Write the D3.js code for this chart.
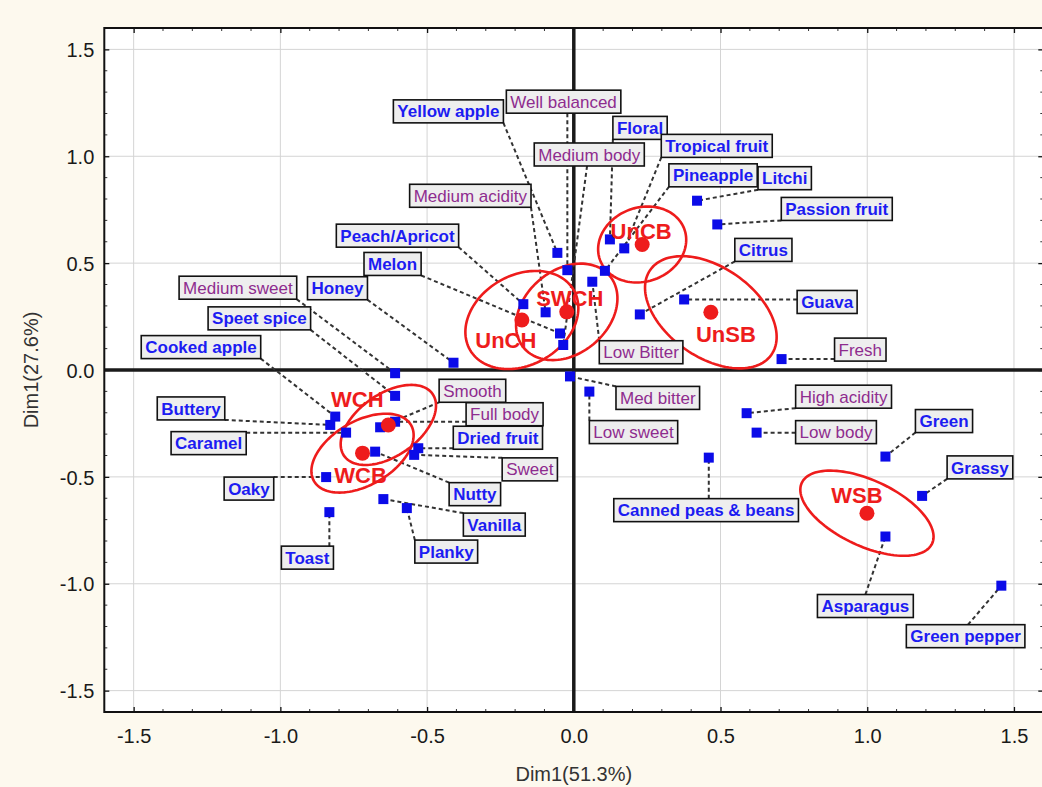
<!DOCTYPE html>
<html>
<head>
<meta charset="utf-8">
<script src="https://cdn.jsdelivr.net/npm/d3@7"></script>
<style>
  html, body { margin: 0; padding: 0; background: #fdf9ee; }
  svg { display: block; }
  text { font-family: "Liberation Sans", Arial, sans-serif; }
</style>
</head>
<body>
<svg id="chart" width="1042" height="787"></svg>
<script>
// ---- Sensory attributes: coordinates on Dim1 / Dim2 ----
const attrNames = [
  "Yellow apple", "Well balanced", "Floral", "Medium body", "Tropical fruit",
  "Pineapple", "Litchi", "Passion fruit", "Citrus", "Guava",
  "Fresh", "Low Bitter", "Medium acidity", "Peach/Apricot", "Melon",
  "Honey", "Medium sweet", "Speet spice", "Cooked apple", "Buttery",
  "Caramel", "Smooth", "Full body", "Nutty", "Dried fruit",
  "Sweet", "Oaky", "Vanilla", "Planky", "Toast",
  "Med bitter", "Low sweet", "High acidity", "Low body", "Canned peas & beans",
  "Green", "Grassy", "Asparagus", "Green pepper"
];
const attrDim1 = [
  -0.056, -0.022, 0.123, -0.036, 0.172,
  0.106, 0.420, 0.489, 0.225, 0.376,
  0.708, 0.063, -0.096, -0.172, -0.047,
  -0.410, -0.609, -0.609, -0.813, -0.830,
  -0.776, -0.660, -0.609, -0.677, -0.530,
  -0.544, -0.844, -0.649, -0.569, -0.833,
  -0.013, 0.053, 0.589, 0.623, 0.460,
  1.062, 1.187, 1.062, 1.457
];
const attrDim2 = [
  0.548, 0.467, 0.611, 0.117, 0.569,
  0.464, 0.792, 0.681, 0.260, 0.330,
  0.051, 0.413, 0.270, 0.308, 0.171,
  0.034, -0.015, -0.121, -0.218, -0.257,
  -0.293, -0.268, -0.242, -0.382, -0.366,
  -0.397, -0.501, -0.604, -0.646, -0.665,
  -0.030, -0.101, -0.202, -0.293, -0.410,
  -0.405, -0.589, -0.779, -1.009
];
// "a" = aroma / flavour descriptor, "t" = taste / mouthfeel descriptor
const attrType = [
  "a", "t", "a", "t", "a",
  "a", "a", "a", "a", "a",
  "t", "t", "t", "a", "a",
  "a", "t", "a", "a", "a",
  "a", "t", "t", "a", "a",
  "t", "a", "a", "a", "a",
  "t", "t", "t", "t", "a",
  "a", "a", "a", "a"
];

// ---- Wine samples and their confidence ellipses ----
const sampleNames = ["UnCH", "SWCH", "UnCB", "UnSB", "WCH", "WCB", "WSB"];
const sampleDim1  = [-0.177, -0.024, 0.233, 0.467, -0.632, -0.720, 0.999];
const sampleDim2  = [0.234, 0.272, 0.587, 0.270, -0.257, -0.389, -0.670];
const ellipseSemiDim1 = [0.204, 0.191, 0.153, 0.252, 0.184, 0.191, 0.245];
const ellipseSemiDim2 = [0.210, 0.196, 0.173, 0.210, 0.145, 0.150, 0.154];
const ellipseTilt     = [-30, -40, -20, 35, -35, -30, 25];

// ---- Axis ticks ----
const xTickValues = [-1.5, -1.0, -0.5, 0.0, 0.5, 1.0, 1.5];
const yTickValues = [-1.5, -1.0, -0.5, 0.0, 0.5, 1.0, 1.5];
const xTitle = "Dim1(51.3%)";
const yTitle = "Dim1(27.6%)";

// ---- Layout: label box offset (px) from its marker, optional leader anchor ----
const labelLayout = {
  "Yellow apple": [-164, -153], "Well balanced": [-61, -180], "Floral": [3, -123],
  "Medium body": [-29, -202, 0.48, 1], "Tropical fruit": [37, -114], "Pineapple": [64, -107],
  "Litchi": [61, -34], "Passion fruit": [64, -27], "Citrus": [95, -76],
  "Guava": [113, -9], "Fresh": [53, -21], "Low Bitter": [7, 59],
  "Medium acidity": [-136, -128], "Peach/Apricot": [-187, -80], "Melon": [-196, -81],
  "Honey": [-146, -86], "Medium sweet": [-216, -97], "Speet spice": [-187, -89],
  "Cooked apple": [-194, -81], "Buttery": [-173, -28], "Caramel": [-175, -1],
  "Smooth": [59, -48], "Full body": [71, -19], "Nutty": [74, 31],
  "Dried fruit": [35, -22], "Sweet": [88, 3], "Oaky": [-102, 0],
  "Vanilla": [80, 14], "Planky": [8, 32], "Toast": [-48, 34],
  "Med bitter": [46, 10], "Low sweet": [0, 29], "High acidity": [49, -28],
  "Low body": [39, -12], "Canned peas & beans": [-95, 41], "Green": [30, -47],
  "Grassy": [25, -40], "Asparagus": [-68, 58, 0.5, 0], "Green pepper": [-95, 39, 0.52, 0]
};
const sampleLabelOffset = {
  "UnCH": [-16, 28], "SWCH": [3, -6], "UnCB": [-1, -6], "UnSB": [15, 30],
  "WCH": [-31, -18], "WCB": [-2, 30], "WSB": [-10, -10]
};

const svg = d3.select("#chart");
const x = d3.scaleLinear().domain([-1.6, 1.6]).range([104.3, 1043.3]);
const y = d3.scaleLinear().domain([-1.6, 1.6]).range([712, 28]);
const [x0, x1] = x.range();
const [y1, y0] = y.range();

// plot background
svg.append("rect").attr("x", x0).attr("y", y0)
  .attr("width", x1 - x0).attr("height", y1 - y0).attr("fill", "#ffffff");

// gridlines
const grid = svg.append("g").attr("stroke", "#d4d4d4").attr("stroke-width", 1);
grid.selectAll("line.gx").data(xTickValues.filter(d => d !== 0)).join("line")
  .attr("x1", d => x(d)).attr("x2", d => x(d)).attr("y1", y0).attr("y2", y1);
grid.selectAll("line.gy").data(yTickValues.filter(d => d !== 0)).join("line")
  .attr("y1", d => y(d)).attr("y2", d => y(d)).attr("x1", x0).attr("x2", x1);

// axes with inward ticks
const fmt = d => d.toFixed(1);
const bottomAxis = svg.append("g").attr("transform", `translate(0,${y1})`)
  .call(d3.axisBottom(x).tickValues(xTickValues).tickFormat(fmt).tickSizeInner(-5).tickSizeOuter(0).tickPadding(0));
const leftAxis = svg.append("g").attr("transform", `translate(${x0},0)`)
  .call(d3.axisLeft(y).tickValues(yTickValues).tickFormat(fmt).tickSizeInner(-5).tickSizeOuter(0).tickPadding(0));
svg.append("g").attr("transform", `translate(0,${y0})`)
  .call(d3.axisTop(x).tickValues(xTickValues).tickFormat("").tickSizeInner(-5).tickSizeOuter(0));
svg.append("g").attr("transform", `translate(${x1},0)`)
  .call(d3.axisRight(y).tickValues(yTickValues).tickFormat("").tickSizeInner(-5).tickSizeOuter(0));
svg.selectAll(".domain").remove();
svg.selectAll(".tick line").attr("stroke", "#111").attr("stroke-width", 1.3);

bottomAxis.selectAll("text").attr("y", 31).attr("dy", null)
  .attr("font-size", 20).attr("fill", "#1a1a1a");
leftAxis.selectAll("text").attr("x", -10).attr("dy", "0.36em")
  .attr("font-size", 20).attr("fill", "#1a1a1a");

// minor ticks on all four sides
const minor = d3.range(-15, 16).map(i => i / 10).filter(v => Math.round(v * 10) % 5 !== 0);
const mt = svg.append("g").attr("stroke", "#333").attr("stroke-width", 1);
minor.forEach(v => {
  mt.append("line").attr("x1", x(v)).attr("x2", x(v)).attr("y1", y1).attr("y2", y1 - 3);
  mt.append("line").attr("x1", x(v)).attr("x2", x(v)).attr("y1", y0).attr("y2", y0 + 3);
  mt.append("line").attr("y1", y(v)).attr("y2", y(v)).attr("x1", x0).attr("x2", x0 + 3);
  mt.append("line").attr("y1", y(v)).attr("y2", y(v)).attr("x1", x1).attr("x2", x1 - 3);
});

// zero lines
svg.append("line").attr("x1", x(0)).attr("x2", x(0)).attr("y1", y0).attr("y2", y1)
  .attr("stroke", "#1a1a1a").attr("stroke-width", 3.5);
svg.append("line").attr("y1", y(0)).attr("y2", y(0)).attr("x1", x0).attr("x2", x1)
  .attr("stroke", "#1a1a1a").attr("stroke-width", 3.5);

// frame
svg.append("rect").attr("x", x0).attr("y", y0)
  .attr("width", x1 - x0).attr("height", y1 - y0)
  .attr("fill", "none").attr("stroke", "#111").attr("stroke-width", 2);

// axis titles
svg.append("text").attr("x", x(0)).attr("y", 781).attr("text-anchor", "middle")
  .attr("font-size", 20).attr("fill", "#333").text(xTitle);
svg.append("text").attr("transform", `translate(38,${y(0)}) rotate(-90)`)
  .attr("text-anchor", "middle").attr("font-size", 20).attr("fill", "#333").text(yTitle);

// ---- attribute labels (measure first, leader lines drawn underneath) ----
const attrs = attrNames.map((n, i) => ({
  name: n, dx: attrDim1[i], dy: attrDim2[i], type: attrType[i]
}));
const leaderLayer = svg.append("g");
const ellipseLayer = svg.append("g");
const markLayer = svg.append("g");
const labelLayer = svg.append("g");

const padX = 4, boxH = 23;
attrs.forEach(d => {
  const px = x(d.dx), py = y(d.dy);
  const lay = labelLayout[d.name];
  const bx = px + lay[0], by = py + lay[1];
  const g = labelLayer.append("g");
  const rect = g.append("rect");
  const t = g.append("text")
    .attr("x", bx + padX).attr("y", by + boxH / 2).attr("dy", "0.36em")
    .attr("font-size", 17)
    .attr("font-weight", d.type === "a" ? "bold" : "normal")
    .attr("fill", d.type === "a" ? "#1c1cf2" : "#8e2c8e")
    .text(d.name);
  const w = t.node().getComputedTextLength() + padX * 2;
  rect.attr("x", bx).attr("y", by).attr("width", w).attr("height", boxH)
    .attr("fill", "#eeeeee").attr("stroke", "#111").attr("stroke-width", 1.6);

  // leader anchor: given fraction, otherwise nearest point of the box
  let ax, ay;
  if (lay.length > 2) {
    ax = bx + lay[2] * w; ay = by + lay[3] * boxH;
  } else {
    ax = Math.max(bx, Math.min(bx + w, px));
    ay = Math.max(by, Math.min(by + boxH, py));
  }
  leaderLayer.append("line")
    .attr("x1", ax).attr("y1", ay).attr("x2", px).attr("y2", py)
    .attr("stroke", "#333").attr("stroke-width", 2).attr("stroke-dasharray", "4,3");
});

// attribute markers
markLayer.selectAll("rect.attr").data(attrs).join("rect")
  .attr("x", d => x(d.dx) - 5).attr("y", d => y(d.dy) - 5)
  .attr("width", 10).attr("height", 10).attr("fill", "#0b0be8");

// ---- samples ----
const samples = sampleNames.map((n, i) => ({
  name: n, dx: sampleDim1[i], dy: sampleDim2[i],
  a: ellipseSemiDim1[i], b: ellipseSemiDim2[i], tilt: ellipseTilt[i]
}));
const line = d3.line().curve(d3.curveLinearClosed);
samples.forEach(s => {
  const cx = x(s.dx), cy = y(s.dy);
  const ra = x(s.a) - x(0), rb = y(0) - y(s.b);
  const th = s.tilt * Math.PI / 180;
  const pts = d3.range(0, 120).map(k => {
    const t = k / 120 * 2 * Math.PI;
    return [cx + ra * Math.cos(t) * Math.cos(th) - rb * Math.sin(t) * Math.sin(th),
            cy + ra * Math.cos(t) * Math.sin(th) + rb * Math.sin(t) * Math.cos(th)];
  });
  ellipseLayer.append("path").attr("d", line(pts))
    .attr("fill", "none").attr("stroke", "#ee1c1c").attr("stroke-width", 2.6);
});
markLayer.selectAll("circle.smp").data(samples).join("circle")
  .attr("cx", d => x(d.dx)).attr("cy", d => y(d.dy)).attr("r", 7.5)
  .attr("fill", "#ee1c1c");
labelLayer.selectAll("text.smp").data(samples).join("text")
  .attr("x", d => x(d.dx) + sampleLabelOffset[d.name][0])
  .attr("y", d => y(d.dy) + sampleLabelOffset[d.name][1])
  .attr("text-anchor", "middle").attr("font-size", 22).attr("font-weight", "bold")
  .attr("fill", "#ee1c1c").text(d => d.name);
</script>
</body>
</html>
